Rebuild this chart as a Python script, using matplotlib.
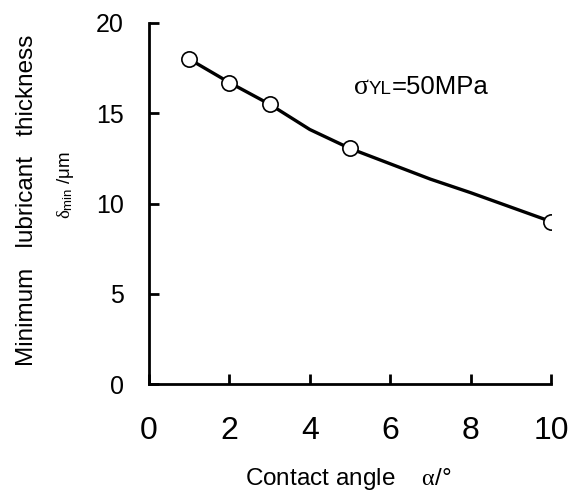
import matplotlib
matplotlib.use("Agg")
import matplotlib.pyplot as plt
from matplotlib.offsetbox import TextArea, HPacker, AnnotationBbox

plt.rcParams['font.family'] = ['Liberation Sans', 'DejaVu Sans']
plt.rcParams['mathtext.fontset'] = 'custom'
plt.rcParams['mathtext.rm'] = 'Liberation Sans'
plt.rcParams['mathtext.it'] = 'Liberation Serif'

# contact angle (deg) and minimum lubricant thickness (um)
angle_marked = [1, 2, 3, 5, 10]
thick_marked = [18.0, 16.7, 15.5, 13.05, 9.0]

# curve points (markers only at the measured ones)
angle_line = [1, 2, 3, 4, 5, 6, 7, 8, 9, 10]
thick_line = [18.0, 16.7, 15.5, 14.1, 13.05, 12.2, 11.35, 10.6, 9.8, 9.0]

x_ticks = [0, 2, 4, 6, 8, 10]
y_ticks = [0, 5, 10, 15, 20]

fig = plt.figure(figsize=(5.75, 4.93), dpi=100)
ax = fig.add_axes([149/575, 1-384/493, 402/575, 361/493])

ax.plot(angle_line, thick_line, color='black', lw=2.4, zorder=2)
ax.plot(angle_marked, thick_marked, 'o', color='black', mfc='white',
        mec='black', ms=11, mew=1.2, zorder=3)

ax.set_xlim(0, 10)
ax.set_ylim(0, 20)
ax.set_xticks(x_ticks)
ax.set_yticks(y_ticks)
for s in ['top', 'right']:
    ax.spines[s].set_visible(False)
for s in ['left', 'bottom']:
    ax.spines[s].set_linewidth(2.0)
ax.tick_params(axis='both', direction='in', length=7, width=2.0)
ax.tick_params(axis='x', labelsize=23, pad=23)
ax.tick_params(axis='y', labelsize=18, pad=18)
for lab in ax.get_xticklabels() + ax.get_yticklabels():
    lab.set_clip_on(False)

# annotation sigma_YL = 50MPa
parts = HPacker(children=[
    TextArea('σ', textprops=dict(fontsize=20, family='Liberation Serif')),
    TextArea('YL', textprops=dict(fontsize=13.5)),
    TextArea('=50MPa', textprops=dict(fontsize=18.5)),
], align='baseline', pad=0, sep=0)
ab = AnnotationBbox(parts, (5.1, 16.4), xycoords='data', box_alignment=(0, 0.5),
                    frameon=False)
ax.add_artist(ab)

fig.text(27/575, 1-200/493, 'Minimum   lubricant   thickness', rotation=90,
         fontsize=17.5, ha='center', va='center')
fig.text(66/575, 1-185/493, r'$\delta_{\mathrm{min}}$ /μm', rotation=90,
         fontsize=13.5, ha='center', va='center')
fig.text(348/575, 1-479/493, r'Contact angle    $\alpha$/°',
         fontsize=17.5, ha='center', va='center')

fig.savefig('out.png', dpi=100)
